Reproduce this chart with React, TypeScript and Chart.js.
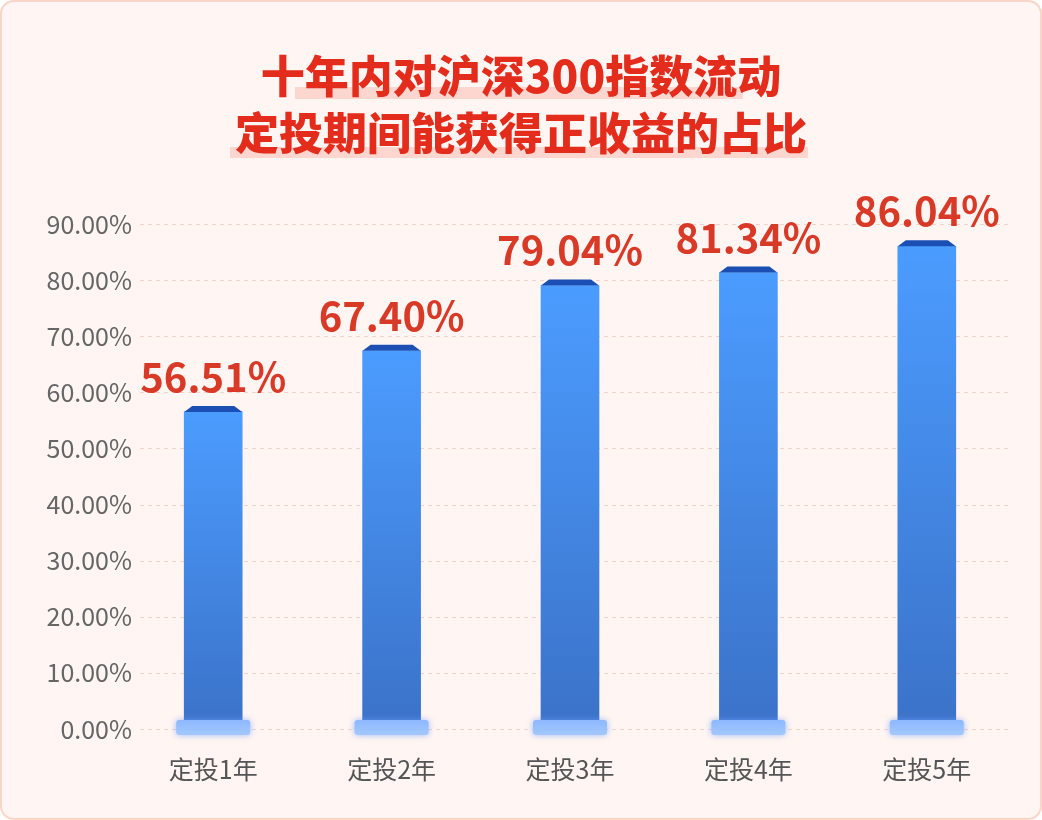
import { useEffect, useRef } from "react"
import { Chart, registerables, type ChartConfiguration, type Plugin } from "chart.js"

Chart.register(...registerables)

const titleLines = ["十年内对沪深300指数流动", "定投期间能获得正收益的占比"]
const categories = ["定投1年", "定投2年", "定投3年", "定投4年", "定投5年"]
const positiveShare = [56.51, 67.4, 79.04, 81.34, 86.04]
const yTickValues = [0, 10, 20, 30, 40, 50, 60, 70, 80, 90]

const FONT = '"Noto Sans CJK SC", "Noto Sans", sans-serif'

// 虚线网格 + y轴刻度文字
const dashedGrid: Plugin<"bar"> = {
  id: "dashedGrid",
  beforeDatasetsDraw(chart) {
    const { ctx } = chart
    const y = chart.scales.y
    ctx.save()
    ctx.strokeStyle = "#f3d2cc"
    ctx.lineWidth = 1
    ctx.setLineDash([4, 4])
    yTickValues.forEach((v) => {
      const py = Math.round(y.getPixelForValue(v)) + 0.5
      ctx.beginPath()
      ctx.moveTo(140, py)
      ctx.lineTo(1008, py)
      ctx.stroke()
    })
    ctx.setLineDash([])
    ctx.fillStyle = "#666"
    ctx.font = `25px ${FONT}`
    ctx.textAlign = "right"
    ctx.textBaseline = "middle"
    yTickValues.forEach((v) => {
      ctx.fillText(`${v.toFixed(2)}%`, 132, y.getPixelForValue(v))
    })
    ctx.restore()
  },
}

// 柱顶、底座、数值
const barDecor: Plugin<"bar"> = {
  id: "barDecor",
  afterDatasetsDraw(chart) {
    const { ctx } = chart
    const meta = chart.getDatasetMeta(0)
    const base = chart.scales.y.getPixelForValue(0)
    ctx.save()
    meta.data.forEach((el: any, i) => {
      const { x, y, width } = el.getProps(["x", "y", "width"], true)
      const l = x - width / 2
      const r = x + width / 2

      // 顶部梯形
      ctx.fillStyle = "#1b4fb3"
      ctx.beginPath()
      ctx.moveTo(l, y)
      ctx.lineTo(l + 8, y - 6)
      ctx.lineTo(r - 8, y - 6)
      ctx.lineTo(r, y)
      ctx.closePath()
      ctx.fill()

      // 底座
      ctx.save()
      ctx.shadowColor = "rgba(110,160,255,0.7)"
      ctx.shadowBlur = 6
      const g = ctx.createLinearGradient(0, base - 9, 0, base + 6)
      g.addColorStop(0, "#8db8ff")
      g.addColorStop(1, "#a3c8ff")
      ctx.fillStyle = g
      ctx.beginPath()
      ctx.roundRect(x - width / 2 - 8, base - 9, width + 16, 15, 3)
      ctx.fill()
      ctx.restore()

      // 数值
      ctx.fillStyle = "#d83a27"
      ctx.font = `bold 40px ${FONT}`
      ctx.textAlign = "center"
      ctx.textBaseline = "alphabetic"
      ctx.fillText(`${positiveShare[i].toFixed(2)}%`, x, y - 20)
    })
    ctx.restore()
  },
}

function BarChart() {
  const chartRef = useRef<HTMLCanvasElement>(null)
  const chartInstance = useRef<Chart | null>(null)

  useEffect(() => {
    if (!chartRef.current) return
    const ctx = chartRef.current.getContext("2d")
    if (!ctx) return

    if (chartInstance.current) chartInstance.current.destroy()

    const config: ChartConfiguration<"bar"> = {
      type: "bar",
      data: {
        labels: categories,
        datasets: [
          {
            label: "正收益占比",
            data: positiveShare,
            barThickness: 58,
            borderWidth: 0,
            backgroundColor: (c: any) => {
              const chart = c.chart
              if (!chart.chartArea || c.raw == null) return "#4a9aff"
              const y = chart.scales.y
              const top = y.getPixelForValue(c.raw)
              const bottom = y.getPixelForValue(0)
              const g = chart.ctx.createLinearGradient(0, top, 0, bottom)
              g.addColorStop(0, "#4b9cff")
              g.addColorStop(1, "#3b72c8")
              return g
            },
          },
        ],
      },
      options: {
        responsive: false,
        animation: false,
        layout: { padding: { top: 224, right: 26, left: 0, bottom: 0 } },
        plugins: {
          legend: { display: false },
          tooltip: { enabled: false },
        },
        scales: {
          x: {
            grid: { display: false, drawTicks: false },
            border: { display: false },
            ticks: {
              color: "#555",
              font: { family: FONT, size: 25 },
              padding: 25,
            },
            afterFit: (s: any) => {
              s.height = 91
            },
          },
          y: {
            min: 0,
            max: 90,
            grid: { display: false, drawTicks: false },
            border: { display: false },
            afterBuildTicks: (s: any) => {
              s.ticks = yTickValues.map((v) => ({ value: v }))
            },
            afterFit: (s: any) => {
              s.width = 124
            },
            // 刻度文字由 dashedGrid 插件绘制（避免被轴区域裁切）
            ticks: { display: false },
          },
        },
      },
      plugins: [dashedGrid, barDecor],
    }

    chartInstance.current = new Chart(ctx, config)

    return () => {
      if (chartInstance.current) {
        chartInstance.current.destroy()
        chartInstance.current = null
      }
    }
  }, [])

  return <canvas ref={chartRef} width={1042} height={820} style={{ position: "absolute", left: 0, top: 0 }} />
}

export default function App() {
  return (
    <div
      style={{
        position: "fixed",
        left: 0,
        top: 0,
        width: 1042,
        height: 820,
        boxSizing: "border-box",
        background: "#fff5f2",
        borderRadius: 14,
        boxShadow: "inset 0 0 0 2px #fbd6c8",
        overflow: "hidden",
        fontFamily: FONT,
      }}
    >
      <div style={{ position: "absolute", left: 295, top: 87, width: 448, height: 12, background: "#fcd6cf" }} />
      <div style={{ position: "absolute", left: 230, top: 147, width: 578, height: 11, background: "#fcd6cf" }} />
      {titleLines.map((t, i) => (
        <div
          key={t}
          style={{
            position: "absolute",
            left: 0,
            width: 1042,
            top: i === 0 ? 52 : 109,
            textAlign: "center",
            fontSize: 44,
            lineHeight: "44px",
            fontWeight: 900,
            color: "#e42c1c",
          }}
        >
          {t}
        </div>
      ))}
      <BarChart />
    </div>
  )
}
